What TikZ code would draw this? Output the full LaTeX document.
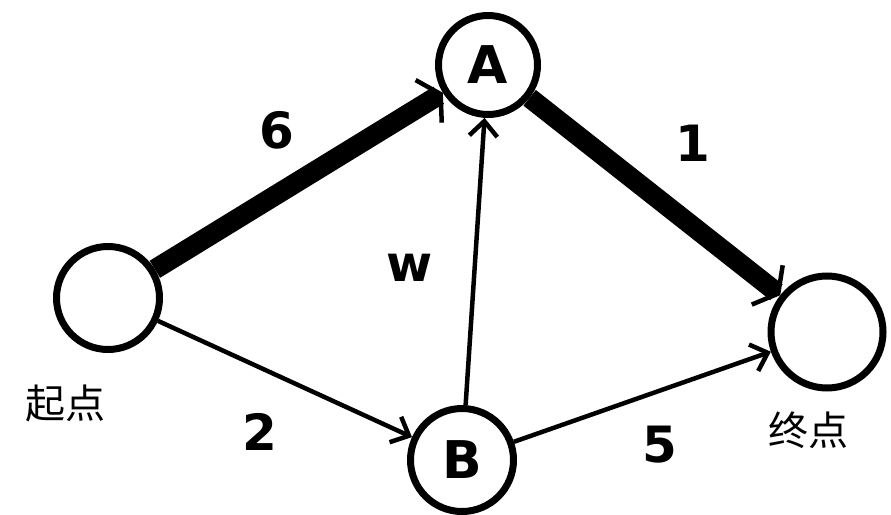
\documentclass[tikz,border=0pt]{standalone}
\usepackage{fontspec}
\setmainfont{DejaVu Sans}
\newfontfamily\cjk{Noto Sans CJK SC}
\usetikzlibrary{arrows.meta}
\begin{document}
\begin{tikzpicture}[x=1pt,y=-1pt,
  vert/.style={circle,draw,line width=7pt,inner sep=0pt,font=\bfseries\fontsize{52}{56}\selectfont},
  thin/.style={line width=4.5pt,-{Straight Barb[length=15pt,width=28pt,line width=4.5pt]}},
  thick/.style={line width=20pt,-{Straight Barb[length=14pt,width=50pt,line width=4.5pt]}},
  wlab/.style={font=\bfseries\fontsize{50}{54}\selectfont},
  clab/.style={font=\cjk\fontsize{40}{44}\selectfont}]
\useasboundingbox (0,0) rectangle (891,514);
\node[vert,minimum size=103pt] (s) at (108,298) {};
\node[vert,minimum size=99pt] (a) at (488,65) {A};
\node[vert,minimum size=103pt] (b) at (462,460) {B};
\node[vert,minimum size=112pt] (e) at (827,332) {};
\draw[thick] (s) -- (a);
\draw[thick] (a) -- (e);
\draw[thin] (s) -- (b);
\draw[thin] (b) -- (a);
\draw[thin] (b) -- (e);
\node[wlab] (l6) at (277,130) {6};
\node[wlab] (l1) at (693,143) {1};
\node[wlab] (lw) at (410,268) {w};
\node[wlab] (l2) at (260,432) {2};
\node[wlab] (l5) at (660,445) {5};
\node[clab] (qd) at (65,403) {起点};
\node[clab] (zd) at (808,430) {终点};
\end{tikzpicture}
\end{document}
